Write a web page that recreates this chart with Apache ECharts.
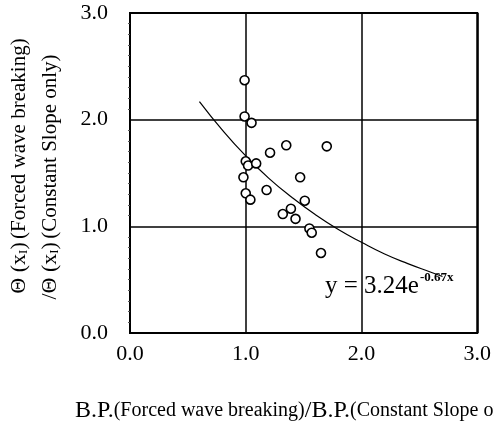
<!DOCTYPE html>
<html><head><meta charset="utf-8">
<script src="https://cdn.jsdelivr.net/npm/echarts@6/dist/echarts.min.js"></script>
<style>html,body{margin:0;padding:0;background:#fff}#c{width:494px;height:427px}</style>
</head><body><div id="c"></div>
<script>
const xTicks = [0, 1, 2, 3];
const yTicks = [0, 1, 2, 3];
const ptsX = [0.99, 0.99, 1.05, 1.35, 1.70, 1.21, 1.00, 1.02, 1.09, 1.47, 0.98, 1.18, 1.00, 1.04, 1.51, 1.39, 1.32, 1.43, 1.55, 1.57, 1.65];
const ptsY = [2.37, 2.03, 1.97, 1.76, 1.75, 1.69, 1.61, 1.57, 1.59, 1.46, 1.46, 1.34, 1.31, 1.25, 1.24, 1.165, 1.115, 1.07, 0.98, 0.94, 0.75];
const fitX = [0.6, 0.8, 1.0, 1.2, 1.4, 1.6, 1.8, 2.0, 2.2, 2.4, 2.6, 2.7];
const fitY = [2.17, 1.90, 1.66, 1.45, 1.27, 1.11, 0.97, 0.85, 0.74, 0.65, 0.57, 0.53];

const serif = '"Liberation Serif", "DejaVu Serif", serif';
const chart = echarts.init(document.getElementById('c'), null, {renderer: 'canvas'});
chart.setOption({
  animation: false,
  backgroundColor: '#fff',
  grid: {left: 130, right: 14, top: 13, bottom: 94, show: true, borderColor: '#000', borderWidth: 2, backgroundColor: 'transparent'},
  xAxis: {
    type: 'value', min: 0, max: 3, interval: 1,
    axisLine: {show: false}, axisTick: {show: false},
    axisLabel: {color: '#000', fontFamily: serif, fontSize: 22, margin: 10,
      formatter: v => xTicks.includes(v) ? v.toFixed(1) : ''},
    splitLine: {show: true, lineStyle: {color: '#000', width: 1.5}}
  },
  yAxis: {
    type: 'value', min: 0, max: 3, interval: 1,
    axisLine: {show: false}, axisTick: {show: false},
    minorTick: {show: true, splitNumber: 10, length: 2, lineStyle: {color: '#555', width: 1}},
    axisLabel: {color: '#000', fontFamily: serif, fontSize: 22, margin: 22,
      formatter: v => yTicks.includes(v) ? v.toFixed(1) : ''},
    splitLine: {show: true, lineStyle: {color: '#000', width: 1.5}}
  },
  series: [
    {type: 'line', data: fitX.map((x, i) => [x, fitY[i]]), smooth: true, showSymbol: false,
      lineStyle: {color: '#000', width: 1.2}, z: 2},
    {type: 'scatter', data: ptsX.map((x, i) => [x, ptsY[i]]), symbol: 'circle', symbolSize: 9,
      itemStyle: {color: '#fff', borderColor: '#000', borderWidth: 1.6, opacity: 1}, z: 3}
  ],
  graphic: [
    {type: 'text', x: 325, y: 299, style: {
      text: 'y = 3.24e', fill: '#000', font: '25px ' + serif, textBaseline: 'alphabetic', verticalAlign: 'bottom'}},
    {type: 'text', x: 420, y: 271, style: {
      text: '-0.67x', fill: '#000', font: 'bold 13px ' + serif, verticalAlign: 'top'}},
    {type: 'text', x: 75, y: 411, style: {
      text: '{b|B.P.}{s|(Forced wave breaking)}{b|/B.P.}{s|(Constant Slope only)}',
      fill: '#000', verticalAlign: 'middle',
      rich: {b: {fontFamily: serif, fontSize: 24, fill: '#000'}, s: {fontFamily: serif, fontSize: 20, fill: '#000'}}}},
    {type: 'text', x: 19, y: 166, rotation: Math.PI / 2, style: {
      text: '{b|\u0398 (x}{sub|I}{b|)} {s|(Forced wave breaking)}',
      fill: '#000', align: 'center', verticalAlign: 'middle',
      rich: {b: {fontFamily: serif, fontSize: 22, fill: '#000'}, sub: {fontFamily: serif, fontSize: 13, fill: '#000', padding: [10,0,0,0]}, s: {fontFamily: serif, fontSize: 21, fill: '#000'}}}},
    {type: 'text', x: 50, y: 177, rotation: Math.PI / 2, style: {
      text: '{b|/\u0398 (x}{sub|I}{b|)} {s|(Constant Slope only)}',
      fill: '#000', align: 'center', verticalAlign: 'middle',
      rich: {b: {fontFamily: serif, fontSize: 22, fill: '#000'}, sub: {fontFamily: serif, fontSize: 13, fill: '#000', padding: [10,0,0,0]}, s: {fontFamily: serif, fontSize: 21, fill: '#000'}}}}
  ]
});
</script></body></html>
